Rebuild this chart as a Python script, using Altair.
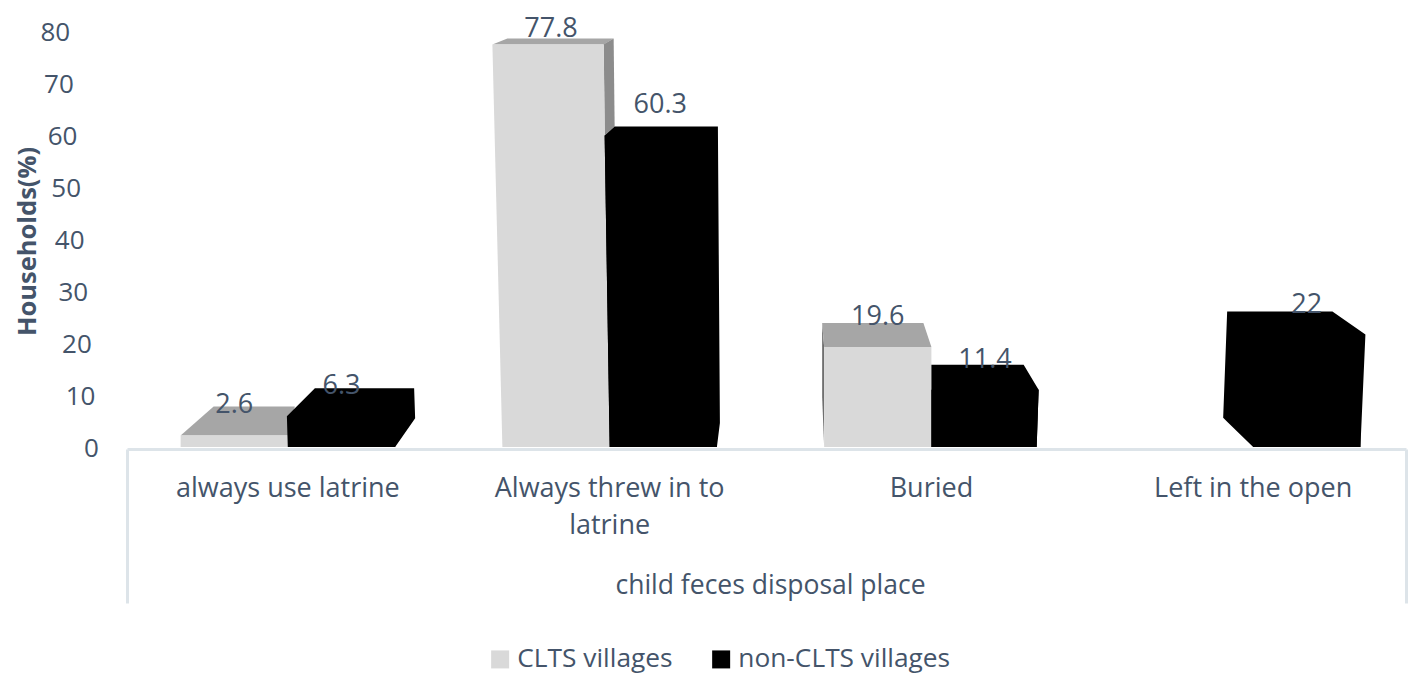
import altair as alt
import pandas as pd

# ---- data ----
categories = ["always use latrine", "Always threw in to\nlatrine", "Buried", "Left in the open"]
series = ["CLTS villages", "non-CLTS villages"]
clts_values = [2.6, 77.8, 19.6, None]
non_clts_values = [6.3, 60.3, 11.4, 22]
y_ticks = [0, 10, 20, 30, 40, 50, 60, 70, 80]

# ---- layout / style ----
FONT = "Open Sans"
INK = "#44546a"
FRAME = "#dde4e9"
LIGHT, BLACK = "#d9d9d9", "#000000"
TOP, SIDE = "#a6a6a6", "#8c8c8c"
PX_X = 321.75          # pixels per category band
PX_Y = 5.2             # pixels per percentage point
X_END = 3.975          # the page ends just before the fourth band does
PLOT_W, PLOT_H = round(X_END * PX_X), round(80 * PX_Y)
BAR = 1 / 3            # bar width in bands
BASE = 0.4             # bars stop just above the axis line


def pt(xa, dx, va, dy):
    """Anchor on the data scales, nudged in pixels for the fake 3-D depth."""
    return (xa + dx / PX_X, va + dy / PX_Y)


def polygon(verts):
    """Convex polygon -> rows of an area mark (x, upper, lower)."""
    xs_ = sorted({v[0] for v in verts})
    rows = []
    n = len(verts)
    for x in xs_:
        hits = []
        for i in range(n):
            (x1, y1), (x2, y2) = verts[i], verts[(i + 1) % n]
            if x1 == x2:
                if x == x1:
                    hits += [y1, y2]
            elif min(x1, x2) <= x <= max(x1, x2):
                hits.append(y1 + (y2 - y1) * (x - x1) / (x2 - x1))
        rows.append({"x": x, "y": max(hits), "y2": min(hits)})
    return rows


xs = alt.Scale(domain=[0, X_END], nice=False, zero=False)
ys = alt.Scale(domain=[0, 80], nice=False, zero=False)
color_scale = alt.Scale(domain=series, range=[LIGHT, BLACK])

x_axis = alt.Axis(
    values=[0, X_END], labels=False, grid=False, tickSize=154, tickWidth=3, tickColor=FRAME,
    domainColor=FRAME, domainWidth=3, title="child feces disposal place",
    titleFont=FONT, titleFontSize=26.5, titleFontWeight="normal", titleColor=INK,
    titleX=643, titleY=136, titleBaseline="middle")
y_axis = alt.Axis(
    values=y_ticks, labels=False, ticks=False, domain=False, grid=False,
    title="Households(%)", titleFont=FONT, titleFontSize=25.5, titleFontWeight="bold",
    titleColor=INK, titleX=-100, titleBaseline="middle")

X = alt.X("x:Q", scale=xs, axis=x_axis)
Y = alt.Y("y:Q", scale=ys, axis=y_axis, stack=None)

legend = alt.Legend(
    orient="none", legendX=360, legendY=613, direction="horizontal", title=None,
    symbolType="square", symbolSize=324, symbolStrokeWidth=0,
    labelFont=FONT, labelFontSize=26.3, labelColor=INK, labelLimit=300,
    columnPadding=35, labelOffset=4,
)


def face(verts, fill):
    return alt.Chart(pd.DataFrame(polygon(verts))).mark_area(color=fill, interpolate="linear").encode(
        x=X, y=Y, y2="y2:Q")


def front(verts, name):
    df = pd.DataFrame(polygon(verts))
    df["series"] = name
    return alt.Chart(df).mark_area(interpolate="linear").encode(
        x=X, y=Y, y2="y2:Q",
        color=alt.Color("series:N", scale=color_scale, legend=legend))


def bounds(cat, s):
    c = cat + 0.5
    return (c - BAR, c) if s == 0 else (c, c + BAR)


layers = []

# --- CLTS faces
L, R = bounds(0, 0); v = clts_values[0]
layers.append(face([pt(L, 0, v, 0), pt(L, 33, v, 29), pt(R, 7, v, 29), pt(R, 0, v, 0)], TOP))
layers.append(front([pt(L, 0, v, 0), pt(R, 0, v, 0), pt(R, 0, BASE, 0), pt(L, 0, BASE, 0)], series[0]))

L, R = bounds(1, 0); v = clts_values[1]
layers.append(face([pt(L, -10, v, 0), pt(L, 5, v, 6), pt(R, 4, v, 6), pt(R, -6, v, 0)], TOP))
layers.append(face([pt(R, -6, v, 0), pt(R, 4, v, 6), pt(R, 5, non_clts_values[1], 9), pt(R, -5, non_clts_values[1], 0)], SIDE))
layers.append(front([pt(L, -10, v, 0), pt(R, -6, v, 0), pt(R, 0, BASE, 0), pt(L, 0, BASE, 0)], series[0]))

L, R = bounds(2, 0); v = clts_values[2]
layers.append(face([pt(L, 0, v, 0), pt(L, -2, v, 24), pt(L, -2, v, -50), pt(L, 0, BASE, 0)], "#6f6f6f"))
layers.append(face([pt(L, 0, v, 0), pt(L, -2, v, 24), pt(R, -8, v, 24), pt(R, 0, v, 0)], TOP))
layers.append(front([pt(L, 0, v, 0), pt(R, 0, v, 0), pt(R, 0, BASE, 0), pt(L, 0, BASE, 0)], series[0]))

# --- non-CLTS faces
L, R = bounds(0, 1); v = non_clts_values[0]
layers.append(face([pt(L, -1, v, 0), pt(L, 27, v, 28), pt(R, 19, v, 28), pt(R, 20, v, -2), pt(R, 0, BASE, 0), pt(L, 0, BASE, 0)], BLACK))
layers.append(front([pt(L, 0, v, 0), pt(R, 0, v, 0), pt(R, 0, BASE, 0), pt(L, 0, BASE, 0)], series[1]))

L, R = bounds(1, 1); v = non_clts_values[1]
layers.append(face([pt(L, -5, v, 0), pt(L, 5, v, 9), pt(R, 1, v, 9), pt(R, 3, 5, 0), pt(R, 0, BASE, 0), pt(L, 0, BASE, 0)], BLACK))
layers.append(front([pt(L, -5, v, 0), pt(R, 0, v, 0), pt(R, 0, BASE, 0), pt(L, 0, BASE, 0)], series[1]))

L, R = bounds(2, 1); v = non_clts_values[2]
layers.append(face([pt(L, 0, v, 0), pt(L, 0, v, 25), pt(R, -15, v, 25), pt(R, 0, v, 0), pt(R, -2, BASE, 0), pt(L, 0, BASE, 0)], BLACK))
layers.append(front([pt(L, 0, v, 0), pt(R, 0, v, 0), pt(R, -2, BASE, 0), pt(L, 0, BASE, 0)], series[1]))

L, R = bounds(3, 1); v = non_clts_values[3]
layers.append(face([pt(L, -26, v, 23), pt(L, -30, 6, 0), pt(L, 0, BASE, 0), pt(R, 0, BASE, 0), pt(R, 5, v, 0), pt(R, -28, v, 23)], BLACK))
layers.append(front([pt(L, 0, v, 0), pt(R, 0, v, 0), pt(R, 0, BASE, 0), pt(L, 0, BASE, 0)], series[1]))

# --- value labels (above the value, kept inside the page at the very top)
rows = []
for cat in range(4):
    for s, vals in enumerate([clts_values, non_clts_values]):
        if vals[cat] is None:
            continue
        a, b = bounds(cat, s)
        nudge = {(1, 0): -5, (1, 1): -3}.get((cat, s), 0)
        rows.append({"x": (a + b) / 2 + nudge / PX_X,
                     "y": min(vals[cat] + 30 / PX_Y, 80.7),
                     "t": str(vals[cat])})
layers.append(
    alt.Chart(pd.DataFrame(rows)).mark_text(font=FONT, fontSize=27, color=INK, baseline="middle", align="center").encode(
        x=X, y=Y, text="t:N")
)

# --- y tick labels, slanted like the perspective axis of the original
tick_df = pd.DataFrame({"x": [-(28 + 0.36 * t) / PX_X for t in y_ticks], "y": y_ticks, "t": [str(t) for t in y_ticks]})
layers.append(
    alt.Chart(tick_df).mark_text(font=FONT, fontSize=26, color=INK, baseline="middle", align="right").encode(
        x=X, y=Y, text="t:N")
)

# --- category labels under the axis
cat_df = pd.DataFrame({"x": [i + 0.5 for i in range(4)], "t": categories})
layers.append(
    alt.Chart(cat_df).mark_text(font=FONT, fontSize=27, color=INK, baseline="top", align="center",
                                lineBreak="\n", lineHeight=37).encode(
        x=X, y=alt.value(PLOT_H + 27), text="t:N")
)

chart = alt.layer(*layers).properties(
    width=PLOT_W, height=PLOT_H,
    autosize=alt.AutoSizeParams(type="none"),
    padding={"left": 119, "top": 25, "right": 2, "bottom": 226},
).configure_view(stroke=None)

chart.save("out.html", embed_options={"renderer": "svg", "actions": False})
